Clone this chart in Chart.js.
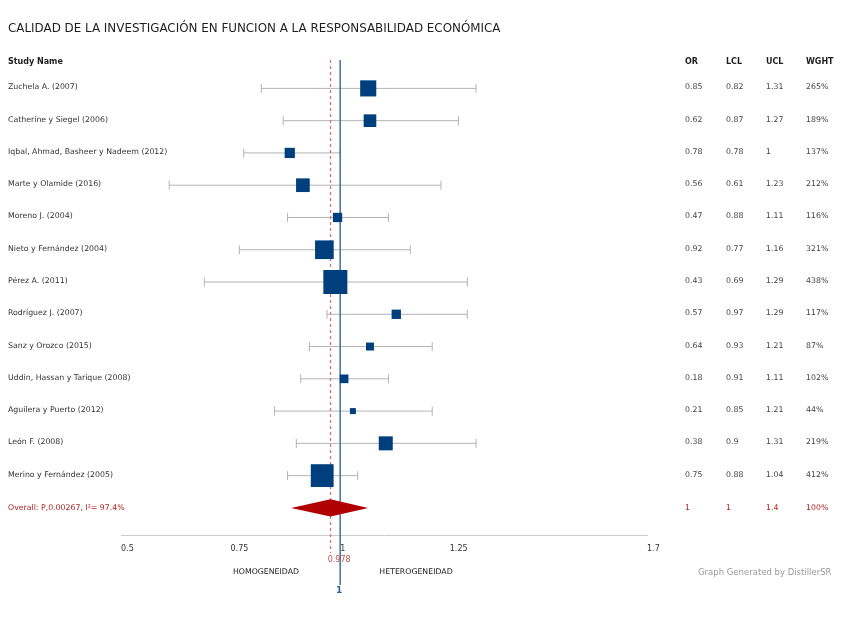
<!DOCTYPE html>
<html>
<head>
<meta charset="utf-8">
<title>Forest plot</title>
<script src="https://cdn.jsdelivr.net/npm/chart.js@4/dist/chart.umd.min.js"></script>
<style>
    body { margin: 0; background: #fff; }
    canvas { display: block; }
</style>
</head>
<body>
<canvas id="forestChart" width="848" height="617"></canvas>
<script>
/* Study data */
const studies = [
    "Zuchela A. (2007)",
    "Catherine y Siegel (2006)",
    "Iqbal, Ahmad, Basheer y Nadeem (2012)",
    "Marte y Olamide (2016)",
    "Moreno J. (2004)",
    "Nieto y Fernández (2004)",
    "Pérez A. (2011)",
    "Rodríguez J. (2007)",
    "Sanz y Orozco (2015)",
    "Uddin, Hassan y Tarique (2008)",
    "Aguilera y Puerto (2012)",
    "León F. (2008)",
    "Merino y Fernández (2005)"
];
const orText   = ["0.85","0.62","0.78","0.56","0.47","0.92","0.43","0.57","0.64","0.18","0.21","0.38","0.75"];
const lclVals  = [0.82, 0.87, 0.78, 0.61, 0.88, 0.77, 0.69, 0.97, 0.93, 0.91, 0.85, 0.9, 0.88];
const uclVals  = [1.31, 1.27, 1, 1.23, 1.11, 1.16, 1.29, 1.29, 1.21, 1.11, 1.21, 1.31, 1.04];
const weights  = [265, 189, 137, 212, 116, 321, 438, 117, 87, 102, 44, 219, 412];
// where the squares sit on the axis
const pointEst = [1.064, 1.068, 0.885, 0.915, 0.994, 0.964, 0.989, 1.128, 1.068, 1.009, 1.029, 1.104, 0.959];

/* Overall */
const overallLabel = "Overall: P,0.00267, I²= 97.4%";
const overallText  = ["1", "1", "1.4", "100%"];
const overallEst   = 0.978;
const overallLo    = 0.888;
const overallHi    = 1.064;

const xTicks = [0.5, 0.75, 1, 1.25, 1.7];
const refLine = 1;

const FONT = "'DejaVu Sans', sans-serif";
const rowCount = studies.length;

/* whiskers: two points per study, broken by a gap point */
const whiskers = [];
studies.forEach((s, i) => {
    whiskers.push({ x: lclVals[i], y: i });
    whiskers.push({ x: uclVals[i], y: i });
    whiskers.push({ x: uclVals[i], y: null });
});

/* Reference lines + diamond, drawn just before the squares */
const forestLines = {
    id: "forestLines",
    beforeDatasetDraw(chart, args) {
        if (args.index !== 0) return;
        const c = chart.ctx;
        const x = chart.scales.x, y = chart.scales.y;
        const top = chart.chartArea.top;

        // overall estimate (red dashed)
        const xr = x.getPixelForValue(overallEst);
        c.save();
        c.strokeStyle = "#d07474";
        c.lineWidth = 1.3;
        c.setLineDash([3, 3]);
        c.beginPath();
        c.moveTo(xr, top);
        c.lineTo(xr, 553);
        c.stroke();
        c.restore();

        // no effect line (blue)
        const x1 = x.getPixelForValue(refLine);
        c.save();
        c.strokeStyle = "#3f6f9f";
        c.lineWidth = 1.5;
        c.beginPath();
        c.moveTo(x1, top);
        c.lineTo(x1, 585);
        c.stroke();
        c.restore();

        // diamond
        const yo = y.getPixelForValue(rowCount);
        c.save();
        c.fillStyle = "#b00000";
        c.beginPath();
        c.moveTo(x.getPixelForValue(overallLo), yo);
        c.lineTo(xr, yo - 8.7);
        c.lineTo(x.getPixelForValue(overallHi), yo);
        c.lineTo(xr, yo + 8.7);
        c.closePath();
        c.fill();
        c.restore();
    }
};

/* Titles, study names and the table */
const forestText = {
    id: "forestText",
    afterDraw(chart) {
        const c = chart.ctx;
        const x = chart.scales.x, y = chart.scales.y;
        c.save();
        c.textBaseline = "middle";
        c.textAlign = "left";

        c.fillStyle = "#1e1e1e";
        c.font = "11.9px " + FONT;
        c.fillText("CALIDAD DE LA INVESTIGACIÓN EN FUNCION A LA RESPONSABILIDAD ECONÓMICA", 8, 29);

        c.font = "bold 8px " + FONT;
        c.fillText("Study Name", 8, 62);
        const cols = [685, 726, 766, 806];
        ["OR", "LCL", "UCL", "WGHT"].forEach((h, k) => c.fillText(h, cols[k], 62));

        c.font = "7.8px " + FONT;
        studies.forEach((s, i) => {
            const yy = y.getPixelForValue(i) - 1;
            c.fillStyle = "#333";
            c.fillText(s, 8, yy);
            c.fillStyle = "#444";
            c.fillText(orText[i], cols[0], yy);
            c.fillText(String(lclVals[i]), cols[1], yy);
            c.fillText(String(uclVals[i]), cols[2], yy);
            c.fillText(weights[i] + "%", cols[3], yy);
        });

        const yo = y.getPixelForValue(rowCount);
        c.fillStyle = "#b22222";
        c.fillText(overallLabel, 8, yo);
        overallText.forEach((t, k) => c.fillText(t, cols[k], yo));

        // bottom labels
        const x1 = x.getPixelForValue(refLine);
        c.textAlign = "center";
        c.fillStyle = "#c0504d";
        c.font = "8px " + FONT;
        c.fillText(String(overallEst), x1 - 1, 560);
        c.fillStyle = "#222";
        c.font = "7.8px " + FONT;
        c.fillText("HOMOGENEIDAD", 266, 572);
        c.fillText("HETEROGENEIDAD", 416, 572);
        c.fillStyle = "#2f5f8f";
        c.font = "bold 9px " + FONT;
        c.fillText(String(refLine), x1 - 1, 591);

        c.textAlign = "left";
        c.fillStyle = "#999";
        c.font = "8.5px " + FONT;
        c.fillText("Graph Generated by DistillerSR", 698, 573);
        c.restore();
    }
};

const ctx = document.getElementById("forestChart");

new Chart(ctx, {
    type: "scatter",
    data: {
        datasets: [{
            label: "OR",
            data: pointEst.map((v, i) => ({ x: v, y: i })),
            pointStyle: "rect",
            pointRadius: c => (4 + 0.0457 * weights[c.dataIndex]) / Math.SQRT2,
            backgroundColor: "#003f7d",
            borderWidth: 0
        }, {
            type: "line",
            label: "CI",
            data: whiskers,
            borderColor: "#b3b3b3",
            borderWidth: 1,
            pointStyle: "line",
            rotation: 90,
            pointRadius: 4.5,
            pointBorderColor: "#b3b3b3",
            pointBorderWidth: 1,
            spanGaps: false,
            fill: false
        }]
    },
    options: {
        responsive: false,
        animation: false,
        layout: { padding: { left: 121, right: 201, top: 60, bottom: 0 } },
        plugins: { legend: { display: false }, tooltip: { enabled: false } },
        scales: {
            x: {
                type: "linear",
                min: 0.5,
                max: 1.7,
                afterBuildTicks: s => { s.ticks = xTicks.map(v => ({ value: v })); },
                afterFit: s => { s.height = 82; },
                grid: { display: false, drawTicks: false },
                border: { color: "#cccccc" },
                ticks: {
                    align: "start",
                    padding: 9,
                    color: "#333",
                    font: { family: FONT, size: 8 },
                    callback: v => String(v)
                }
            },
            y: {
                type: "linear",
                display: false,
                reverse: true,
                min: -0.88,
                max: 13.84
            }
        }
    },
    plugins: [forestLines, forestText]
});
</script>
</body>
</html>
